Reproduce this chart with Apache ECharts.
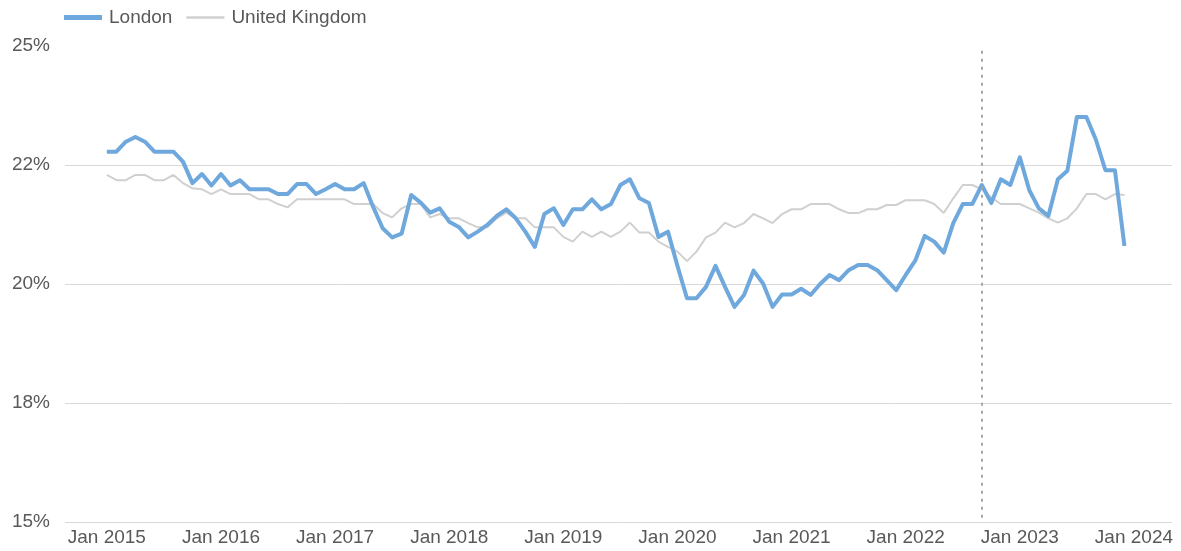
<!DOCTYPE html>
<html>
<head>
<meta charset="utf-8">
<script src="https://cdn.jsdelivr.net/npm/echarts@6/dist/echarts.min.js"></script>
<style>
    html, body { margin: 0; padding: 0; background: #fff; }
    #chart { width: 1181px; height: 551px; }
</style>
</head>
<body>
<div id="chart"></div>
<script>
// 月度数据：2015年1月 至 2023年12月
const london = [
    22.78, 22.78, 22.99, 23.09, 22.99, 22.78, 22.78, 22.78, 22.57, 22.12, 22.31, 22.07,
    22.31, 22.07, 22.18, 21.99, 21.99, 21.99, 21.89, 21.89, 22.10, 22.10, 21.89, 21.99,
    22.10, 21.99, 21.99, 22.12, 21.62, 21.17, 20.98, 21.06, 21.87, 21.71, 21.50, 21.59,
    21.31, 21.20, 20.98, 21.10, 21.24, 21.43, 21.57, 21.38, 21.10, 20.78, 21.47, 21.59,
    21.24, 21.57, 21.57, 21.78, 21.57, 21.68, 22.08, 22.20, 21.80, 21.70, 20.99, 21.10,
    20.38, 19.70, 19.70, 19.94, 20.38, 19.94, 19.52, 19.77, 20.28, 20.01, 19.52, 19.78,
    19.78, 19.90, 19.77, 20.00, 20.19, 20.08, 20.29, 20.40, 20.40, 20.29, 20.08, 19.87,
    20.19, 20.49, 21.01, 20.89, 20.66, 21.28, 21.68, 21.68, 22.08, 21.70, 22.20, 22.08,
    22.66, 21.97, 21.59, 21.43, 22.20, 22.38, 23.51, 23.51, 23.03, 22.39, 22.39, 20.80
];
const unitedKingdom = [
    22.29, 22.18, 22.18, 22.29, 22.29, 22.18, 22.18, 22.29, 22.12, 22.01, 21.99, 21.89,
    21.99, 21.89, 21.89, 21.89, 21.78, 21.78, 21.68, 21.61, 21.78, 21.78, 21.78, 21.78,
    21.78, 21.78, 21.68, 21.68, 21.68, 21.49, 21.40, 21.59, 21.68, 21.68, 21.40, 21.47,
    21.38, 21.38, 21.28, 21.19, 21.19, 21.38, 21.50, 21.38, 21.38, 21.19, 21.19, 21.19,
    20.99, 20.89, 21.10, 20.99, 21.10, 20.99, 21.10, 21.29, 21.08, 21.08, 20.89, 20.78,
    20.68, 20.48, 20.68, 20.98, 21.08, 21.29, 21.19, 21.28, 21.47, 21.38, 21.28, 21.47,
    21.57, 21.57, 21.68, 21.68, 21.68, 21.57, 21.49, 21.49, 21.57, 21.57, 21.66, 21.66,
    21.76, 21.76, 21.76, 21.68, 21.49, 21.80, 22.08, 22.08, 21.99, 21.82, 21.68, 21.68,
    21.68, 21.59, 21.50, 21.38, 21.29, 21.38, 21.59, 21.89, 21.89, 21.78, 21.89, 21.87
];
// x轴刻度（月序号）和标签
const xTicks = [0, 12, 24, 36, 48, 60, 72, 84, 96, 108];
const xTickLabels = ['Jan 2015', 'Jan 2016', 'Jan 2017', 'Jan 2018', 'Jan 2019',
                     'Jan 2020', 'Jan 2021', 'Jan 2022', 'Jan 2023', 'Jan 2024'];
// y轴刻度标签（原图四舍五入显示）
const yTicks = [15, 17.5, 20, 22.5, 25];
const yTickLabels = ['15%', '18%', '20%', '22%', '25%'];
// 虚线标记：2022年9月
const markMonth = 92;

document.addEventListener('DOMContentLoaded', function() {
    const chart = echarts.init(document.getElementById('chart'));
    const font = 'Liberation Sans, Arial, sans-serif';
    const textColor = '#595959';
    const londonColor = '#6fa8dc';
    const ukColor = '#d0d0d0';

    const toPoints = arr => arr.map((v, i) => [i, v]);

    const option = {
        animation: false,
        textStyle: { fontFamily: font },
        legend: {
            left: 59,
            top: 3,
            itemWidth: 38,
            itemHeight: 14,
            itemGap: 14,
            textStyle: { color: textColor, fontSize: 19, fontFamily: font, padding: [0, 0, 0, 2] },
            data: [
                { name: 'London', icon: 'path://M0,0H38V5H0Z', itemStyle: { color: londonColor } },
                { name: 'United Kingdom', icon: 'path://M0,0H38V2.5H0Z', itemStyle: { color: ukColor } }
            ]
        },
        grid: { left: 65, right: 9, top: 46, bottom: 29 },
        xAxis: {
            type: 'value',
            min: -4.4,
            max: 112,
            axisLine: { show: false },
            axisTick: { show: false },
            splitLine: { show: false },
            axisLabel: {
                customValues: xTicks,
                color: textColor,
                fontSize: 19,
                fontFamily: font,
                margin: 6,
                formatter: function(v) {
                    const idx = xTicks.indexOf(v);
                    return idx >= 0 ? xTickLabels[idx] : '';
                }
            }
        },
        yAxis: {
            type: 'value',
            min: 15,
            max: 25,
            interval: 2.5,
            axisLine: { show: false },
            axisTick: { show: false },
            splitLine: {
                showMaxLine: false,
                lineStyle: { color: '#d9d9d9', width: 1 }
            },
            axisLabel: {
                color: textColor,
                fontSize: 19,
                fontFamily: font,
                margin: 15,
                formatter: function(v) {
                    const idx = yTicks.indexOf(v);
                    return idx >= 0 ? yTickLabels[idx] : '';
                }
            }
        },
        series: [
            {
                name: 'United Kingdom',
                type: 'line',
                data: toPoints(unitedKingdom),
                symbol: 'none',
                lineStyle: { color: ukColor, width: 2 },
                itemStyle: { color: ukColor },
                z: 2
            },
            {
                name: 'London',
                type: 'line',
                data: toPoints(london),
                symbol: 'none',
                lineStyle: { color: londonColor, width: 4, join: 'round' },
                itemStyle: { color: londonColor },
                z: 3,
                markLine: {
                    silent: true,
                    symbol: ['none', 'none'],
                    label: { show: false },
                    lineStyle: { color: '#a6a6a6', type: [3, 5], width: 2 },
                    data: [[{ coord: [markMonth, 24.9] }, { coord: [markMonth, 15] }]]
                }
            }
        ]
    };

    chart.setOption(option);
});
</script>
</body>
</html>
